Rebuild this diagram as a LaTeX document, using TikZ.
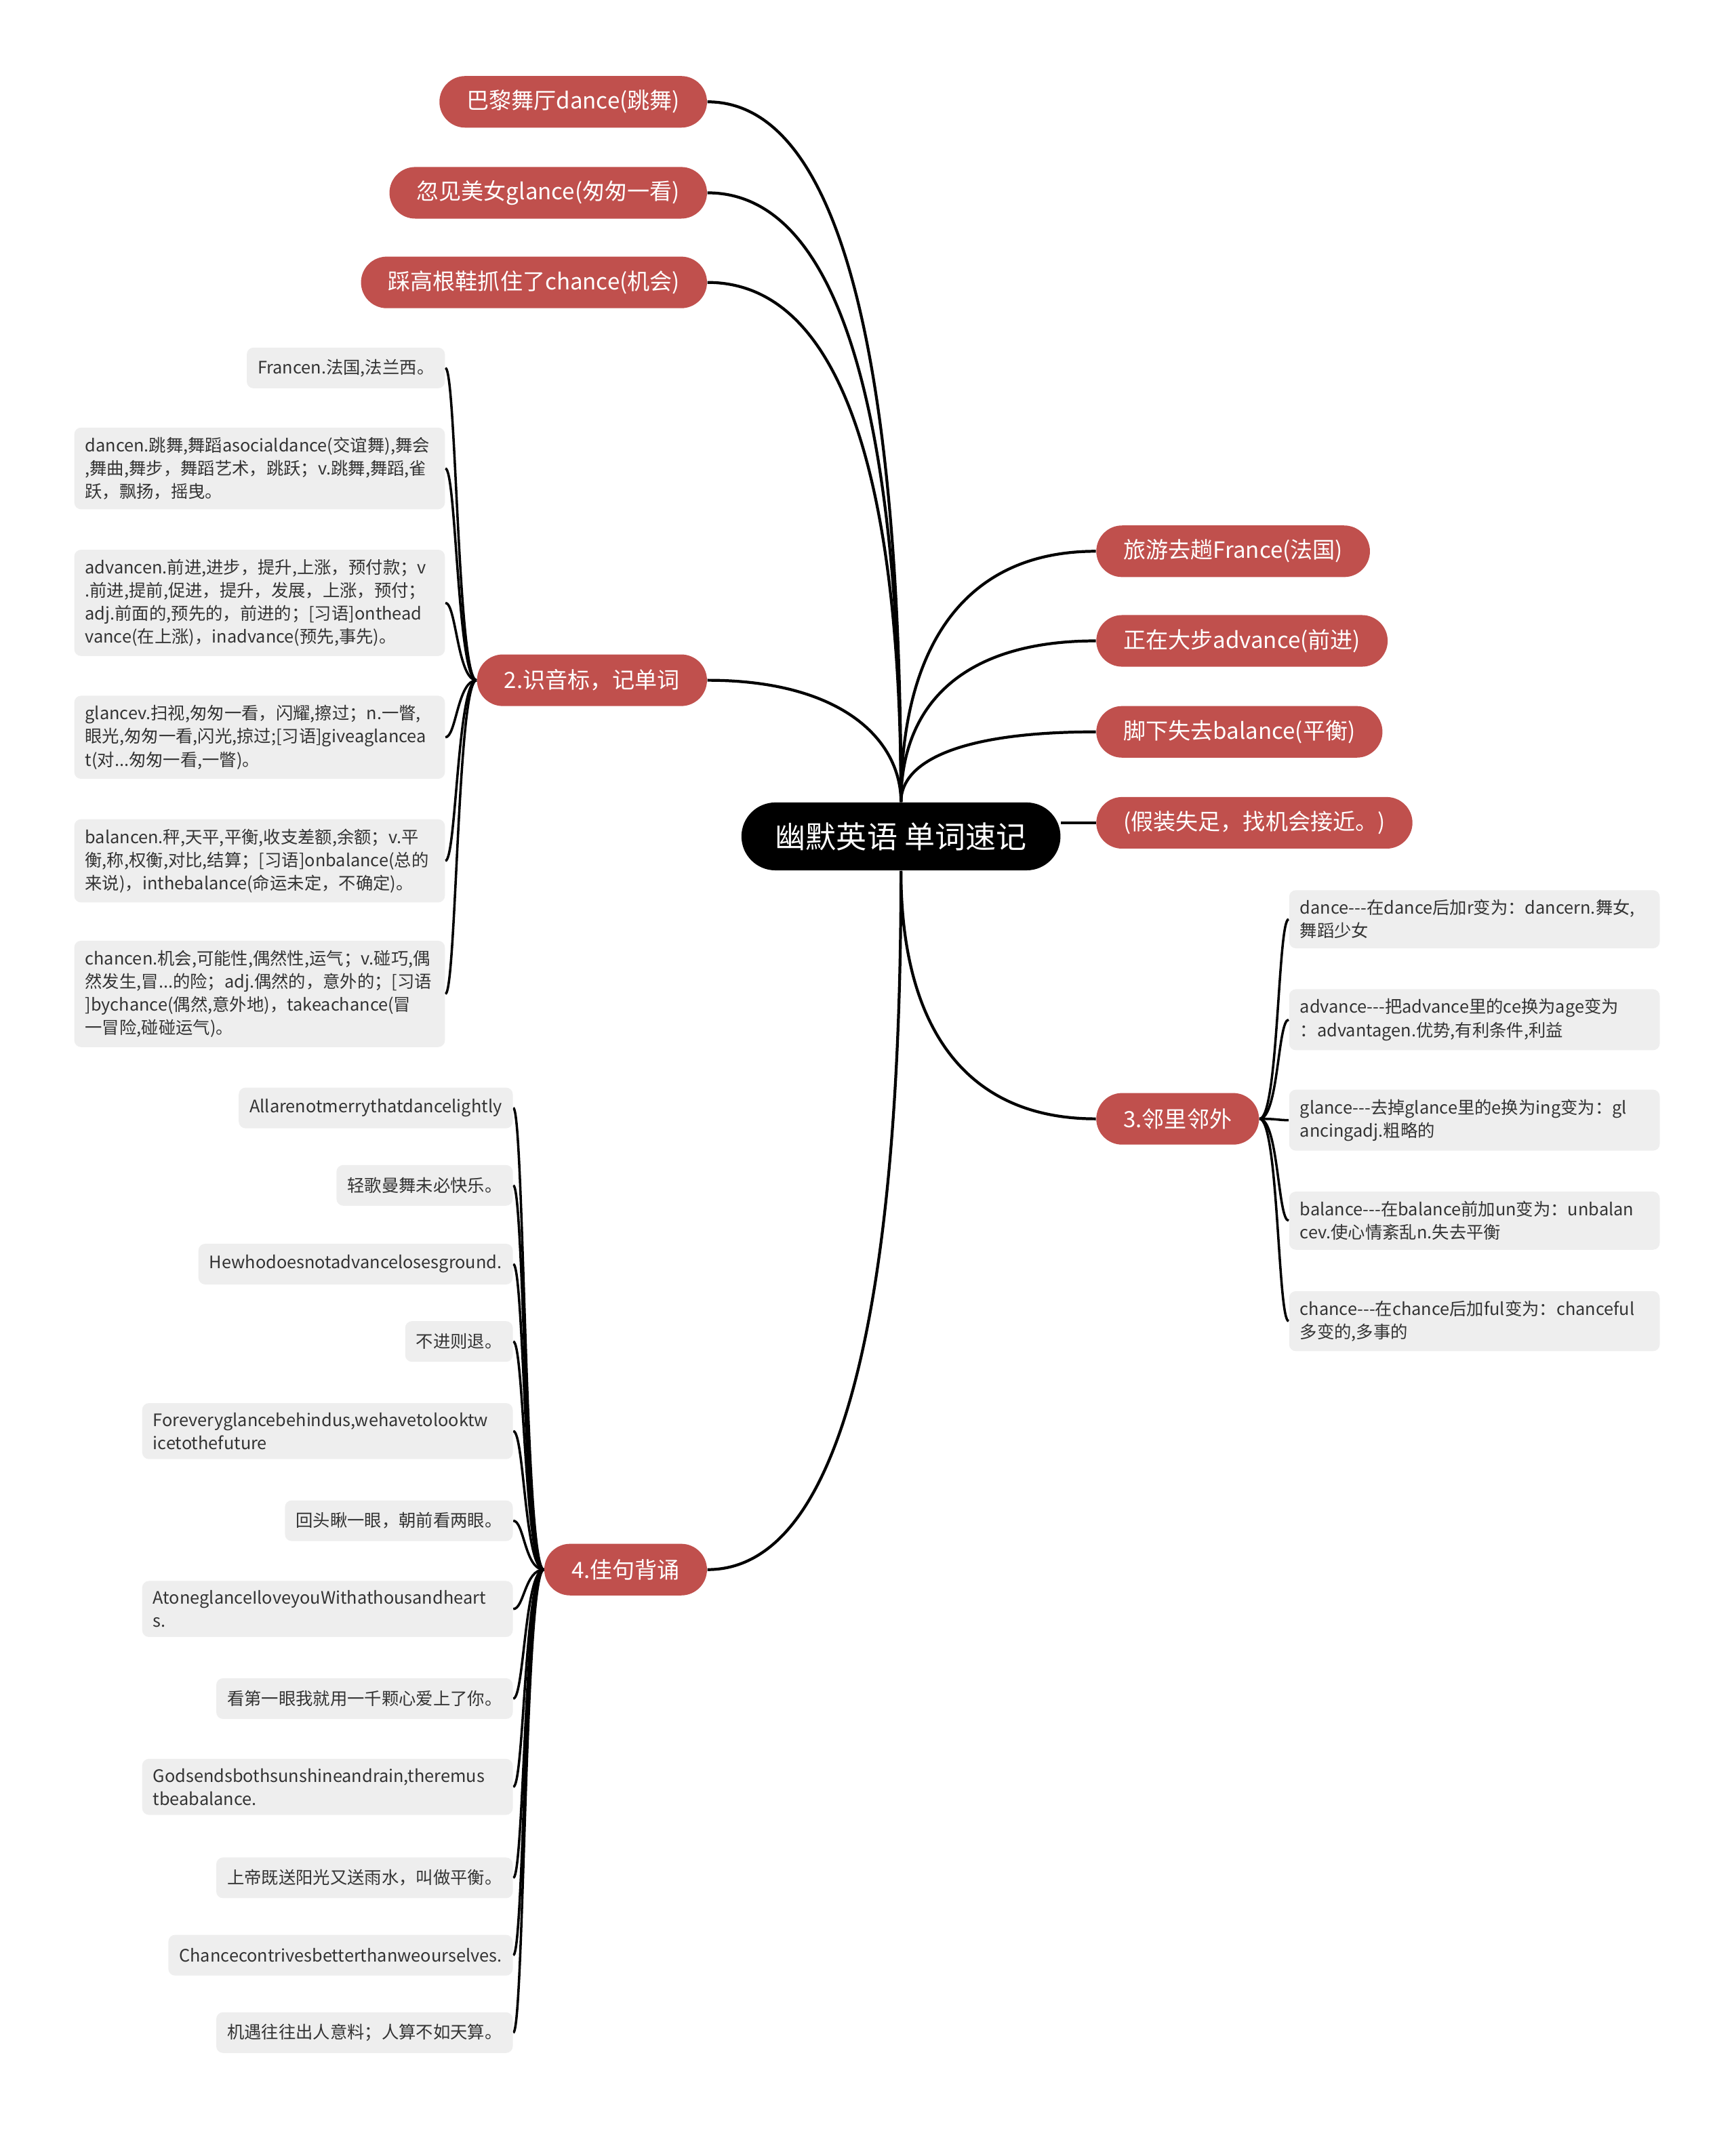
\documentclass[tikz,border=0pt]{standalone}
\usepackage{fontspec}
\setmainfont{Noto Sans CJK SC}
\usetikzlibrary{backgrounds}
\definecolor{topicred}{RGB}{192,80,77}
\definecolor{leafgray}{RGB}{238,238,238}
\definecolor{inkgray}{RGB}{51,51,51}

\begin{document}
\begin{tikzpicture}[
    x=0.02cm, y=-0.02cm,
    hub/.style={
      rectangle,
      rounded corners=0.5cm,
      fill=black,
      text=white,
      minimum height=1cm,
      inner xsep=0.5cm,
      font=\fontsize{12.8pt}{15pt}\selectfont
    },
    topic/.style={
      rectangle,
      rounded corners=0.38cm,
      fill=topicred,
      text=white,
      minimum height=0.76cm,
      inner xsep=0.4cm,
      inner ysep=0pt,
      font=\fontsize{9.4pt}{12pt}\selectfont
    },
    leaf/.style={
      rectangle,
      rounded corners=0.1cm,
      fill=leafgray,
      text=inkgray,
      minimum height=0.6cm,
      inner xsep=0.16cm,
      inner ysep=0.14cm,
      align=left,
      font=\fontsize{7.2pt}{9.7pt}\selectfont
    },
    longleaf/.style={leaf, text width=5.14cm},
    link/.style={draw=black, line width=1.2pt},
    twig/.style={draw=black, line width=1pt}
  ]
  \useasboundingbox (0,0) rectangle (1278,1568);

  % centre and main topics
  \node[hub] (root) at (663.5,616) {幽默英语 单词速记};

  \node[topic, anchor=east] (dance) at (521,75) {巴黎舞厅dance(跳舞)};
  \node[topic, anchor=east] (glance) at (521,142) {忽见美女glance(匆匆一看)};
  \node[topic, anchor=east] (chance) at (521,208) {踩高根鞋抓住了chance(机会)};
  \node[topic, anchor=east] (vocab) at (521,501) {2.识音标，记单词};
  \node[topic, anchor=east] (quotes) at (521,1156) {4.佳句背诵};

  \node[topic, anchor=west] (france) at (807,406) {旅游去趟France(法国)};
  \node[topic, anchor=west] (advance) at (807,472) {正在大步advance(前进)};
  \node[topic, anchor=west] (balance) at (807,539) {脚下失去balance(平衡)};
  \node[topic, anchor=west] (feint) at (807,606) {(假装失足，找机会接近。)};
  \node[topic, anchor=west] (change) at (807,824) {3.邻里邻外};

  % 2. word meanings
  \node[leaf, anchor=east] (v1) at (328,271) {Francen.法国,法兰西。};
  \node[longleaf, anchor=east] (v2) at (328,345) {dancen.跳舞,舞蹈asocialdance(交谊舞),舞会\\,舞曲,舞步，舞蹈艺术，跳跃；v.跳舞,舞蹈,雀\\跃，飘扬，摇曳。};
  \node[longleaf, anchor=east] (v3) at (328,444) {advancen.前进,进步，提升,上涨，预付款；v\\.前进,提前,促进，提升，发展，上涨，预付；\\adj.前面的,预先的，前进的；[习语]onthead\\vance(在上涨)，inadvance(预先,事先)。};
  \node[longleaf, anchor=east] (v4) at (328,543) {glancev.扫视,匆匆一看，闪耀,擦过；n.一瞥,\\眼光,匆匆一看,闪光,掠过;[习语]giveaglancea\\t(对...匆匆一看,一瞥)。};
  \node[longleaf, anchor=east] (v5) at (328,634) {balancen.秤,天平,平衡,收支差额,余额；v.平\\衡,称,权衡,对比,结算；[习语]onbalance(总的\\来说)，inthebalance(命运未定，不确定)。};
  \node[longleaf, anchor=east] (v6) at (328,732) {chancen.机会,可能性,偶然性,运气；v.碰巧,偶\\然发生,冒...的险；adj.偶然的，意外的；[习语\\]bychance(偶然,意外地)，takeachance(冒\\一冒险,碰碰运气)。};

  % 3. derived words
  \node[longleaf, anchor=west] (w1) at (949,677) {dance-{}-{}-在dance后加r变为：dancern.舞女,\\舞蹈少女};
  \node[longleaf, anchor=west] (w2) at (949,751) {advance-{}-{}-把advance里的ce换为age变为\\：advantagen.优势,有利条件,利益};
  \node[longleaf, anchor=west] (w3) at (949,825) {glance-{}-{}-去掉glance里的e换为ing变为：gl\\ancingadj.粗略的};
  \node[longleaf, anchor=west] (w4) at (949,899) {balance-{}-{}-在balance前加un变为：unbalan\\cev.使心情紊乱n.失去平衡};
  \node[longleaf, anchor=west] (w5) at (949,973) {chance-{}-{}-在chance后加ful变为：chanceful\\多变的,多事的};

  % 4. quotes
  \node[leaf, anchor=east] (q1) at (378,816) {Allarenotmerrythatdancelightly};
  \node[leaf, anchor=east] (q2) at (378,873) {轻歌曼舞未必快乐。};
  \node[leaf, anchor=east] (q3) at (378,931) {Hewhodoesnotadvancelosesground.};
  \node[leaf, anchor=east] (q4) at (378,988) {不进则退。};
  \node[longleaf, anchor=east] (q5) at (378,1054) {Foreveryglancebehindus,wehavetolooktw\\icetothefuture};
  \node[leaf, anchor=east] (q6) at (378,1120) {回头瞅一眼，朝前看两眼。};
  \node[longleaf, anchor=east] (q7) at (378,1185) {AtoneglanceIloveyouWithathousandheart\\s.};
  \node[leaf, anchor=east] (q8) at (378,1251) {看第一眼我就用一千颗心爱上了你。};
  \node[longleaf, anchor=east] (q9) at (378,1316) {Godsendsbothsunshineandrain,theremus\\tbeabalance.};
  \node[leaf, anchor=east] (q10) at (378,1383) {上帝既送阳光又送雨水，叫做平衡。};
  \node[leaf, anchor=east] (q11) at (378,1440) {Chancecontrivesbetterthanweourselves.};
  \node[leaf, anchor=east] (q12) at (378,1497) {机遇往往出人意料；人算不如天算。};

  \begin{scope}[on background layer]
    \draw[link] (root.north) .. controls +(0,-258) and +(114,0) .. (dance.east);
    \draw[link] (root.north) .. controls +(0,-225) and +(114,0) .. (glance.east);
    \draw[link] (root.north) .. controls +(0,-190) and +(114,0) .. (chance.east);
    \draw[link] (root.north) .. controls +(0,-45) and +(100,0) .. (vocab.east);
    \draw[link] (root.north) .. controls +(0,-110) and +(-100,0) .. (france.west);
    \draw[link] (root.north) .. controls +(0,-70) and +(-100,0) .. (advance.west);
    \draw[link] (root.north) .. controls +(0,-30) and +(-100,0) .. (balance.west);
    \draw[link] (root.east |- feint.west) -- (feint.west);
    \draw[link] (root.south) .. controls +(0,110) and +(-100,0) .. (change.west);
    \draw[link] (root.south) .. controls +(0,258) and +(114,0) .. (quotes.east);

    \foreach \i in {1,...,6}
      \draw[twig] (vocab.west) .. controls +(-14,0) and +(8,0) .. (v\i.east);
    \foreach \i in {1,...,5}
      \draw[twig] (change.east) .. controls +(14,0) and +(-8,0) .. (w\i.west);
    \foreach \i in {1,...,12}
      \draw[twig] (quotes.west) .. controls +(-14,0) and +(8,0) .. (q\i.east);
  \end{scope}

\end{tikzpicture}
\end{document}
